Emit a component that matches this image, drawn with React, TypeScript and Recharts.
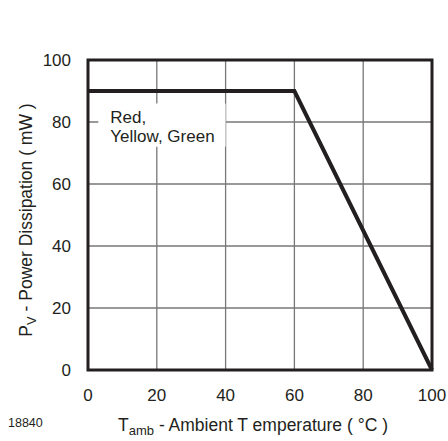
import {
  CartesianGrid,
  Line,
  LineChart,
  ReferenceArea,
  XAxis,
  YAxis,
} from "recharts";

const temps = [0, 60, 100];
const power = [90, 90, 0];
const xTicks = [0, 20, 40, 60, 80, 100];
const yTicks = [0, 20, 40, 60, 80, 100];
const seriesLabel = ["Red,", "Yellow, Green"];

const data = temps.map((t, i) => ({ t, p: power[i] }));

const font = "'Liberation Sans', Arial, sans-serif";
const ink = "#231f20";

function BoxLabel({ viewBox }: any) {
  const { x, y } = viewBox;
  return (
    <text x={x + 12} y={y + 20} fill={ink} fontSize={17} fontFamily={font}>
      {seriesLabel.map((s, i) => (
        <tspan key={s} x={x + 12} dy={i === 0 ? 0 : 19}>
          {s}
        </tspan>
      ))}
    </text>
  );
}

export default function App() {
  return (
    <div style={{ position: "absolute", left: 0, top: 0, width: 448, height: 441, background: "#fff", fontFamily: font }}>
      <LineChart
        width={448}
        height={441}
        data={data}
        margin={{ top: 60, right: 16, bottom: 41, left: 28 }}
      >
        <CartesianGrid stroke="#777" strokeWidth={1.3} />
        <XAxis
          dataKey="t"
          type="number"
          domain={[0, 100]}
          ticks={xTicks}
          axisLine={false}
          tickLine={false}
          height={30}
          tick={{ fill: ink, fontSize: 17, fontFamily: font }}
          tickMargin={13}
          interval={0}
        />
        <YAxis
          type="number"
          domain={[0, 100]}
          ticks={yTicks}
          axisLine={false}
          tickLine={false}
          width={60}
          tick={{ fill: ink, fontSize: 17, fontFamily: font }}
          tickMargin={11}
          interval={0}
        />
        <ReferenceArea
          x1={3}
          x2={40}
          y1={72}
          y2={86}
          fill="#fff"
          fillOpacity={1}
          stroke="none"
          label={<BoxLabel />}
        />
        <ReferenceArea
          x1={0}
          x2={100}
          y1={0}
          y2={100}
          fill="none"
          stroke={ink}
          strokeWidth={3}
        />
        <Line
          dataKey="p"
          type="linear"
          stroke={ink}
          strokeWidth={4}
          dot={false}
          isAnimationActive={false}
        />
      </LineChart>
      <div style={{ position: "absolute", left: 253, top: 426, transform: "translate(-50%, -50%)", whiteSpace: "nowrap", fontSize: 17.5, color: ink }}>
        T<sub style={{ fontSize: 13, verticalAlign: "-4px" }}>amb</sub> - Ambient T emperature ( °C )
      </div>
      <div style={{ position: "absolute", left: 27, top: 220, transform: "translate(-50%, -50%) rotate(-90deg)", whiteSpace: "nowrap", fontSize: 17.5, color: ink }}>
        P<sub style={{ fontSize: 13, verticalAlign: "-4px" }}>V</sub> - Power Dissipation ( mW )
      </div>
      <div style={{ position: "absolute", left: 8, top: 416, fontSize: 12.5, color: ink }}>18840</div>
    </div>
  );
}
